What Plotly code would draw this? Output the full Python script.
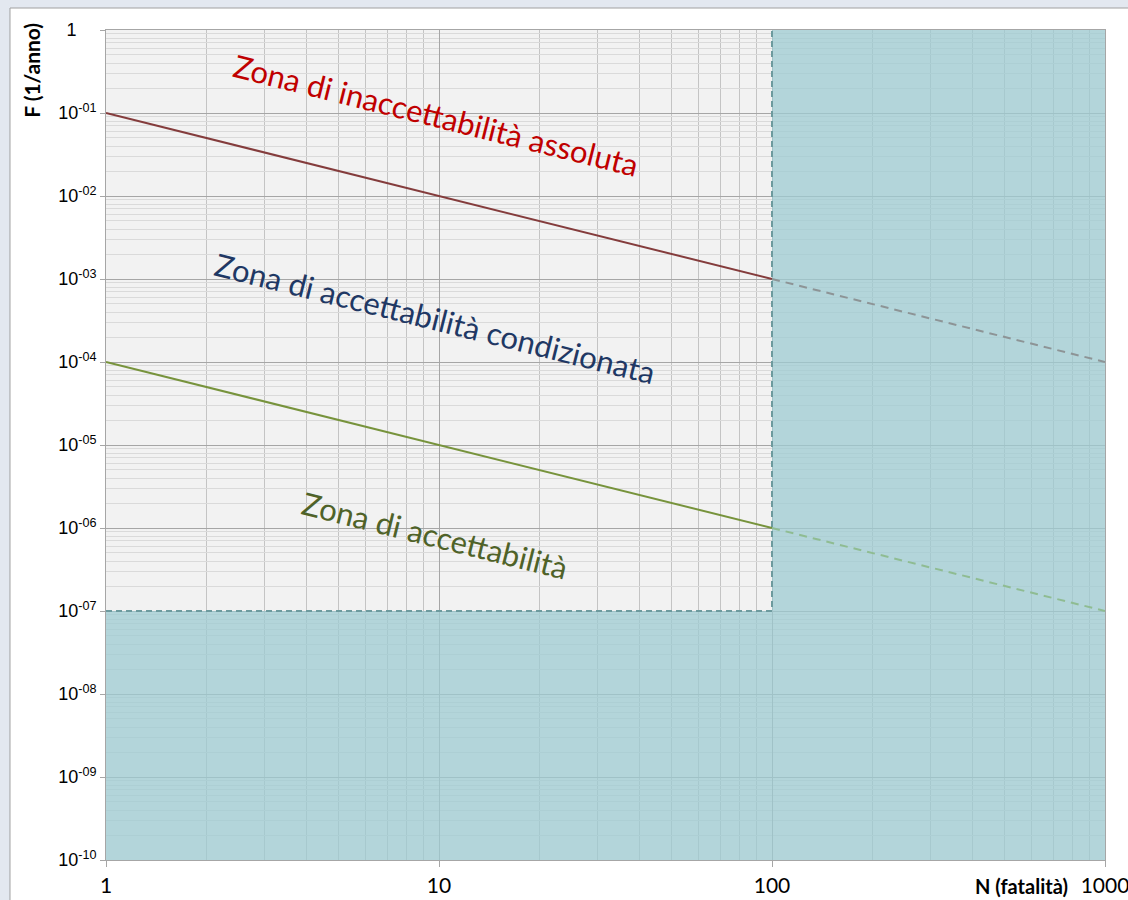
import math
import plotly.graph_objects as go

# Criteria lines (N fatalities vs F frequency per year)
n_solid = [1, 100]
n_dashed = [100, 1000]
upper_solid = [1e-1, 1e-3]
upper_dashed = [1e-3, 1e-4]
lower_solid = [1e-4, 1e-6]
lower_dashed = [1e-6, 1e-7]

# Excluded zones (N > 100, and F < 1e-7)
zone_right_n = [100, 1000, 1000, 100, 100]
zone_right_f = [1e-10, 1e-10, 1, 1, 1e-10]
zone_bottom_n = [1, 100, 100, 1, 1]
zone_bottom_f = [1e-10, 1e-10, 1e-7, 1e-7, 1e-10]
boundary_n = [1, 100, 100]
boundary_f = [1e-7, 1e-7, 1]

# Axis ticks
x_ticks = [1, 10, 100, 1000]
x_ticktext = ["1", "10", "100", "1000"]
y_exps = list(range(-10, 1))
y_ticks = [10.0 ** e for e in y_exps]
y_ticktext = ["10<sup>-%02d</sup>" % -e for e in y_exps[:-1]] + ["1" + "\u00a0" * 4]

# Zone labels
zone_labels = ["Zona di inaccettabilità assoluta",
               "Zona di accettabilità condizionata",
               "Zona di accettabilità"]
zone_label_n = [9.8, 9.7, 9.7]
zone_label_f = [10 ** -1.03, 10 ** -3.47, 10 ** -6.08]
zone_label_colors = ["#c00000", "#1f3864", "#4f6228"]

minor_x = [k * 10 ** e for e in range(0, 3) for k in range(2, 10)]
minor_y = [k * 10.0 ** e for e in range(-10, 0) for k in range(2, 10)]

teal = "rgba(157,203,210,0.75)"

fig = go.Figure()
fig.add_trace(go.Scatter(x=zone_right_n, y=zone_right_f, mode="lines", fill="toself",
                         fillcolor=teal, line=dict(width=0), hoverinfo="skip"))
fig.add_trace(go.Scatter(x=zone_bottom_n, y=zone_bottom_f, mode="lines", fill="toself",
                         fillcolor=teal, line=dict(width=0), hoverinfo="skip"))
fig.add_trace(go.Scatter(x=boundary_n, y=boundary_f, mode="lines",
                         line=dict(color="#6d9a9e", width=2, dash="6px,4px")))
fig.add_trace(go.Scatter(x=n_solid, y=upper_solid, mode="lines",
                         line=dict(color="#843c3c", width=2)))
fig.add_trace(go.Scatter(x=n_dashed, y=upper_dashed, mode="lines",
                         line=dict(color="#8d9496", width=2, dash="8px,6px")))
fig.add_trace(go.Scatter(x=n_solid, y=lower_solid, mode="lines",
                         line=dict(color="#77933c", width=2)))
fig.add_trace(go.Scatter(x=n_dashed, y=lower_dashed, mode="lines",
                         line=dict(color="#8fbc92", width=2, dash="8px,6px")))

for txt, n, f, col in zip(zone_labels, zone_label_n, zone_label_f, zone_label_colors):
    fig.add_annotation(x=math.log10(n), y=math.log10(f),
                       text=txt, showarrow=False, textangle=14,
                       font=dict(family="Lato", size=31, color=col))

# Axis titles
fig.add_annotation(xref="paper", yref="paper", x=-0.0741, y=0.952, text="<b>F (1/anno)</b>",
                   showarrow=False, textangle=-90, xanchor="center", yanchor="middle",
                   font=dict(family="Lato", size=21, color="#000000"))
fig.add_annotation(xref="paper", yref="paper", x=0.916, y=-0.0313, text="<b>N (fatalità)</b>",
                   showarrow=False, xanchor="center", yanchor="middle",
                   font=dict(family="Lato", size=20, color="#000000"))

# Window frame around the chart
fig.add_shape(type="rect", xref="paper", yref="paper", x0=-0.2, x1=-0.0961, y0=-0.2, y1=1.2,
              fillcolor="#e3e8f0", line=dict(width=0), layer="below")
fig.add_shape(type="rect", xref="paper", yref="paper", x0=-0.2, x1=1.2, y0=1.0265, y1=1.2,
              fillcolor="#e3e8f0", line=dict(width=0), layer="below")
fig.add_shape(type="line", xref="paper", yref="paper", x0=-0.0961, x1=-0.0961, y0=-0.2, y1=1.0265,
              line=dict(color="#a0a0a0", width=1), layer="below")
fig.add_shape(type="line", xref="paper", yref="paper", x0=-0.0961, x1=1.2, y0=1.0265, y1=1.0265,
              line=dict(color="#a0a0a0", width=1), layer="below")

fig.update_layout(
    width=1128, height=900,
    margin=dict(l=106, r=23, t=30, b=40, autoexpand=False),
    paper_bgcolor="#ffffff",
    plot_bgcolor="#f2f2f2",
    showlegend=False,
    xaxis=dict(type="log", range=[0, 3], tickmode="array", tickvals=x_ticks,
               ticktext=x_ticktext, showgrid=True, gridcolor="#a6a6a6", gridwidth=1,
               ticks="outside", ticklen=6, tickcolor="#a6a6a6",
               showline=True, linecolor="#a6a6a6", mirror=True, zeroline=False,
               ticklabelstandoff=1, automargin=False, ticklabeloverflow="allow",
               tickfont=dict(family="Lato", size=21, color="#000000"),
               minor=dict(tickmode="array", tickvals=minor_x, showgrid=True,
                          gridcolor="#c4c4c4", gridwidth=1, ticks="")),
    yaxis=dict(type="log", range=[-10, 0], tickmode="array", tickvals=y_ticks,
               ticktext=y_ticktext, showgrid=True, gridcolor="#a6a6a6", gridwidth=1,
               ticks="outside", ticklen=5, tickcolor="#a6a6a6",
               showline=True, linecolor="#a6a6a6", mirror=True, zeroline=False,
               automargin=False, ticklabeloverflow="allow",
               tickfont=dict(family="Liberation Sans", size=18, color="#000000"),
               minor=dict(tickmode="array", tickvals=minor_y, showgrid=True,
                          gridcolor="#dadada", gridwidth=1, ticks="")),
)

fig.write_html("out.html")
